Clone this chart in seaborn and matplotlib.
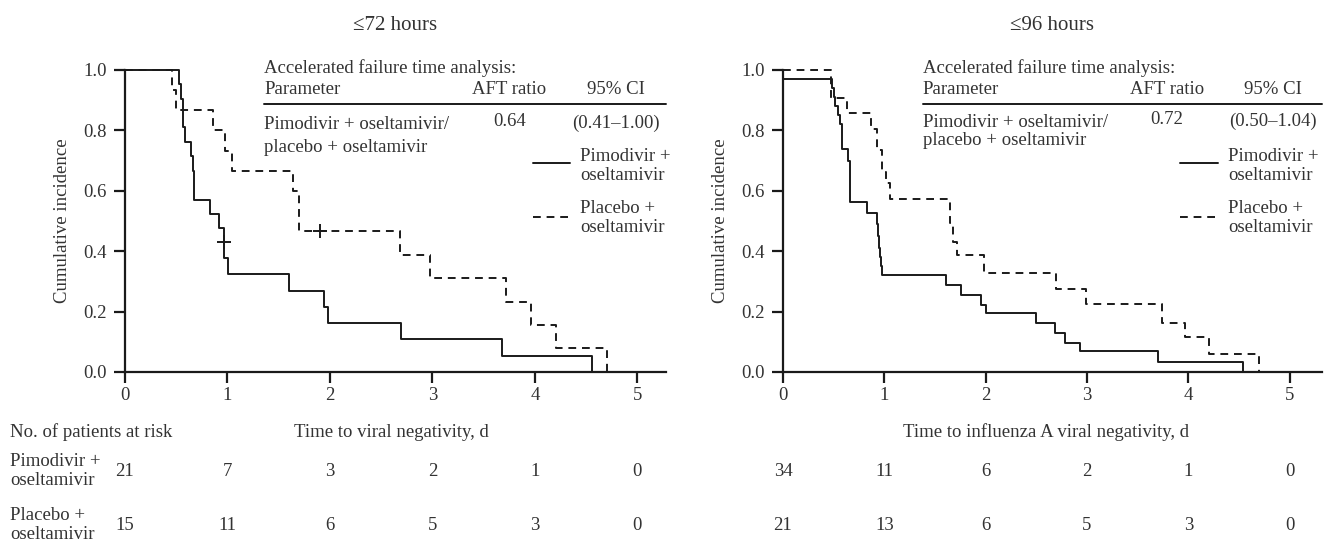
import matplotlib
matplotlib.use("Agg")
import matplotlib.pyplot as plt
import numpy as np
import pandas as pd
import seaborn as sns

# step curves (time in days, cumulative incidence)
t_pimo_72 = [0, 0.53, 0.55, 0.57, 0.59, 0.64, 0.66, 0.67, 0.83, 0.92, 0.97, 1.01, 1.60, 1.94, 1.98, 2.69, 3.68, 4.56]
s_pimo_72 = [1.0, 0.952, 0.905, 0.810, 0.762, 0.714, 0.667, 0.571, 0.524, 0.476, 0.376, 0.323, 0.269, 0.215, 0.161, 0.108, 0.054, 0.0]
t_plac_72 = [0, 0.46, 0.50, 0.86, 0.98, 1.04, 1.64, 1.70, 2.68, 2.98, 3.72, 3.96, 4.21, 4.70]
s_plac_72 = [1.0, 0.933, 0.867, 0.8, 0.733, 0.667, 0.6, 0.467, 0.389, 0.311, 0.233, 0.156, 0.078, 0.0]

t_pimo_96 = [0, 0.48, 0.50, 0.51, 0.545, 0.56, 0.58, 0.64, 0.66, 0.83, 0.93, 0.94, 0.95, 0.96, 0.97, 0.98,
             1.61, 1.76, 1.95, 2.00, 2.50, 2.68, 2.78, 2.93, 3.70, 4.54]
s_pimo_96 = [0.97, 0.94, 0.91, 0.88, 0.85, 0.82, 0.74, 0.70, 0.564, 0.527, 0.49, 0.45, 0.41, 0.38, 0.35, 0.321,
             0.288, 0.255, 0.222, 0.194, 0.161, 0.129, 0.097, 0.069, 0.033, 0.0]
t_plac_96 = [0, 0.47, 0.63, 0.87, 0.93, 0.98, 1.02, 1.06, 1.65, 1.68, 1.72, 1.98, 2.69, 2.99, 3.74, 3.97, 4.20, 4.70]
s_plac_96 = [1.0, 0.906, 0.859, 0.804, 0.735, 0.663, 0.625, 0.572, 0.492, 0.431, 0.387, 0.327, 0.274, 0.224, 0.161, 0.117, 0.059, 0.0]

# censor marks (72 h panel)
cens_72 = [(0.97, 0.43), (1.90, 0.467)]

risk_times = [0, 1, 2, 3, 4, 5]
risk_pimo_72 = [21, 7, 3, 2, 1, 0]
risk_plac_72 = [15, 11, 6, 5, 3, 0]
risk_pimo_96 = [34, 11, 6, 2, 1, 0]
risk_plac_96 = [21, 13, 6, 5, 3, 0]

titles = ["≤72 hours", "≤96 hours"]
xlabels = ["Time to viral negativity, d", "Time to influenza A viral negativity, d"]
aft_ratio = ["0.64", "0.72"]
aft_ci = ["(0.41–1.00)", "(0.50–1.04)"]

sns.set_style("ticks")
plt.rcParams["font.family"] = ["Liberation Serif", "DejaVu Serif"]

FS = 13.5
TXT = "#333333"
INK = "#1a1a1a"
DASH = (0, (4, 3))

fig = plt.figure(figsize=(13.29, 5.44), dpi=100)
W, H = 1329, 544


def make_ax(x0, x1, xmax):
    ax = fig.add_axes([x0 / W, 1 - 372 / H, (x1 - x0) / W, 302 / H])
    ax.set_xlim(0, xmax)
    ax.set_ylim(0, 1.0)
    return ax


ax1 = make_ax(125, 666, 5.28)
ax2 = make_ax(783, 1322, 5.32)

panels = [
    (ax1, t_pimo_72, s_pimo_72, t_plac_72, s_plac_72, risk_pimo_72, risk_plac_72),
    (ax2, t_pimo_96, s_pimo_96, t_plac_96, s_plac_96, risk_pimo_96, risk_plac_96),
]

# per-panel positions of the AFT block (data x / y)
x_left = [1.36, 1.38]
x_ratio = [3.75, 3.79]
x_ci = [4.79, 4.84]
y_row1 = [0.818, 0.826]
y_row2 = [0.745, 0.765]
leg_x = [(3.98, 4.34), (3.92, 4.29)]

for i, (ax, tp, sp, tq, sq, rp, rq) in enumerate(panels):
    dp = pd.DataFrame({"t": tp, "s": sp})
    dq = pd.DataFrame({"t": tq, "s": sq})
    sns.lineplot(data=dp, x="t", y="s", ax=ax, color=INK, lw=1.4,
                 drawstyle="steps-post", estimator=None, sort=False, clip_on=False)
    sns.lineplot(data=dq, x="t", y="s", ax=ax, color=INK, lw=1.4,
                 drawstyle="steps-post", estimator=None, sort=False, clip_on=False,
                 linestyle=DASH)

    for name in ["top", "right"]:
        ax.spines[name].set_visible(False)
    for name in ["left", "bottom"]:
        ax.spines[name].set_linewidth(1.6)
        ax.spines[name].set_color(INK)
    ax.set_xticks(risk_times)
    ax.set_yticks([0, 0.2, 0.4, 0.6, 0.8, 1.0])
    ax.set_yticklabels(["0.0", "0.2", "0.4", "0.6", "0.8", "1.0"])
    ax.tick_params(axis="both", length=8, width=1.6, color=INK, labelcolor=TXT, labelsize=FS)
    ax.tick_params(axis="y", pad=5)
    ax.tick_params(axis="x", pad=3)
    ax.set_xlabel("")
    ax.set_ylabel("Cumulative incidence", fontsize=FS, color=TXT)
    ax.yaxis.set_label_coords(-0.10, 0.5)

    tr = ax.get_xaxis_transform()
    ax.text(2.6, -0.199, xlabels[i], transform=tr, ha="center", va="center", fontsize=FS, color=TXT)
    ax.text(0.5, 1.149, titles[i], transform=ax.transAxes, ha="center", va="center", fontsize=15, color=TXT)
    for x, a, b in zip(risk_times, rp, rq):
        ax.text(x, -0.331, str(a), transform=tr, ha="center", va="center", fontsize=FS, color=TXT)
        ax.text(x, -0.507, str(b), transform=tr, ha="center", va="center", fontsize=FS, color=TXT)

    # AFT table
    xmax = ax.get_xlim()[1]
    ax.text(x_left[i], 1.007, "Accelerated failure time analysis:", ha="left", va="center", fontsize=FS, color=TXT)
    ax.text(x_left[i], 0.934, "Parameter", ha="left", va="center", fontsize=FS, color=TXT)
    ax.text(x_ratio[i], 0.934, "AFT ratio", ha="center", va="center", fontsize=FS, color=TXT)
    ax.text(x_ci[i], 0.934, "95% CI", ha="center", va="center", fontsize=FS, color=TXT)
    ax.plot([x_left[i], xmax], [0.887, 0.887], color=INK, lw=1.4, clip_on=False)
    ax.text(x_left[i], y_row1[i], "Pimodivir + oseltamivir/", ha="left", va="center", fontsize=FS, color=TXT)
    ax.text(x_left[i], y_row2[i], "placebo + oseltamivir", ha="left", va="center", fontsize=FS, color=TXT)
    ax.text(x_ratio[i], y_row1[i] + 0.01, aft_ratio[i], ha="center", va="center", fontsize=FS, color=TXT)
    ax.text(x_ci[i], y_row1[i] + 0.004, aft_ci[i], ha="center", va="center", fontsize=FS, color=TXT)

    lx0, lx1 = leg_x[i]
    ax.plot([lx0, lx1], [0.692, 0.692], color=INK, lw=1.4)
    ax.plot([lx0, lx1], [0.513, 0.513], color=INK, lw=1.4, linestyle=DASH)
    ax.text(lx1 + 0.1, 0.682, "Pimodivir +\noseltamivir", ha="left", va="center", fontsize=FS,
            color=TXT, linespacing=1.2)
    ax.text(lx1 + 0.1, 0.51, "Placebo +\noseltamivir", ha="left", va="center", fontsize=FS,
            color=TXT, linespacing=1.2)

for cx, cy in cens_72:
    ax1.plot(cx, cy, marker="+", ms=10, mew=1.4, color=INK)

fig.text(10 / W, 1 - 432 / H, "No. of patients at risk", ha="left", va="center", fontsize=FS, color=TXT)
fig.text(10 / W, 1 - 471 / H, "Pimodivir +\noseltamivir", ha="left", va="center", fontsize=FS,
         color=TXT, linespacing=1.2)
fig.text(10 / W, 1 - 525 / H, "Placebo +\noseltamivir", ha="left", va="center", fontsize=FS,
         color=TXT, linespacing=1.2)

fig.savefig("out.png", dpi=100)
